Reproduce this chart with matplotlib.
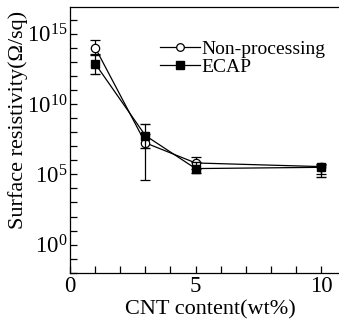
import matplotlib.pyplot as plt
import numpy as np
from matplotlib.ticker import FixedLocator, LogFormatterSciNotation, NullFormatter

plt.rcParams["font.family"] = ["Liberation Serif", "DejaVu Serif"]
plt.rcParams["mathtext.fontset"] = "stix"

# CNT content (wt%)
cnt = [1, 3, 5, 10]

# log10 of surface resistivity (ohm/sq)
non_proc = [14.02, 7.24, 5.81, 5.55]
non_proc_lo = [13.55, 4.57, 5.40, 5.00]
non_proc_hi = [14.56, 7.90, 6.24, 5.74]

ecap = [12.88, 7.76, 5.41, 5.50]
ecap_lo = [12.16, 6.84, 5.09, 4.79]
ecap_hi = [13.48, 8.60, 5.90, 5.70]


def to_err(vals, lo, hi):
    v = 10 ** np.array(vals)
    return v, np.vstack([v - 10 ** np.array(lo), 10 ** np.array(hi) - v])


fig = plt.figure(figsize=(3.39, 3.22), dpi=100)
ax = fig.add_axes([0.2065, 0.153, 0.83, 0.825])

y1, e1 = to_err(non_proc, non_proc_lo, non_proc_hi)
y2, e2 = to_err(ecap, ecap_lo, ecap_hi)

ax.errorbar(cnt, y1, yerr=e1, color="black", lw=0.9, marker="o", ms=6,
            mfc="white", mec="black", mew=0.9, capsize=3.5, elinewidth=0.9,
            zorder=3)
ax.errorbar(cnt, y2, yerr=e2, color="black", lw=0.9, marker="s", ms=6,
            mfc="black", mec="black", capsize=3.5, elinewidth=0.9,
            zorder=4)

# legend handles without error bars
h1, = ax.plot([], [], color="black", lw=0.9, marker="o", ms=5.5,
              mfc="white", mec="black", mew=0.9, label="Non-processing")
h2, = ax.plot([], [], color="black", lw=0.9, marker="s", ms=5.5,
              mfc="black", mec="black", label="ECAP")

ax.set_yscale("log")
ax.set_ylim(1e-2, 10 ** 16.9)
ax.set_xlim(0, 11.2)

ax.xaxis.set_major_locator(FixedLocator([0, 5, 10]))
ax.xaxis.set_minor_locator(FixedLocator(range(0, 12)))
ax.yaxis.set_major_locator(FixedLocator([1e0, 1e5, 1e10, 1e15]))
ax.yaxis.set_major_formatter(LogFormatterSciNotation())
ax.yaxis.set_minor_locator(FixedLocator([10.0 ** k for k in range(-2, 17)]))
ax.yaxis.set_minor_formatter(NullFormatter())

ax.tick_params(which="both", direction="in", length=5, width=0.9,
               labelsize=16.5, top=False, right=False)
ax.tick_params(axis="x", pad=2)
ax.tick_params(axis="y", pad=2)

for side in ["left", "bottom", "top"]:
    ax.spines[side].set_linewidth(0.9)

ax.set_xlabel("CNT content(wt%)", fontsize=16, labelpad=3)
ax.set_ylabel("Surface resistivity(Ω/sq)", fontsize=16)
ax.yaxis.set_label_coords(-0.149, 0.575)

ax.legend(handles=[h1, h2], loc="upper left", bbox_to_anchor=(0.32, 0.875),
          frameon=False, fontsize=14, handlelength=2.05, handletextpad=0.1,
          labelspacing=0.0, borderaxespad=0, borderpad=0)

fig.savefig("out.png", dpi=100)
